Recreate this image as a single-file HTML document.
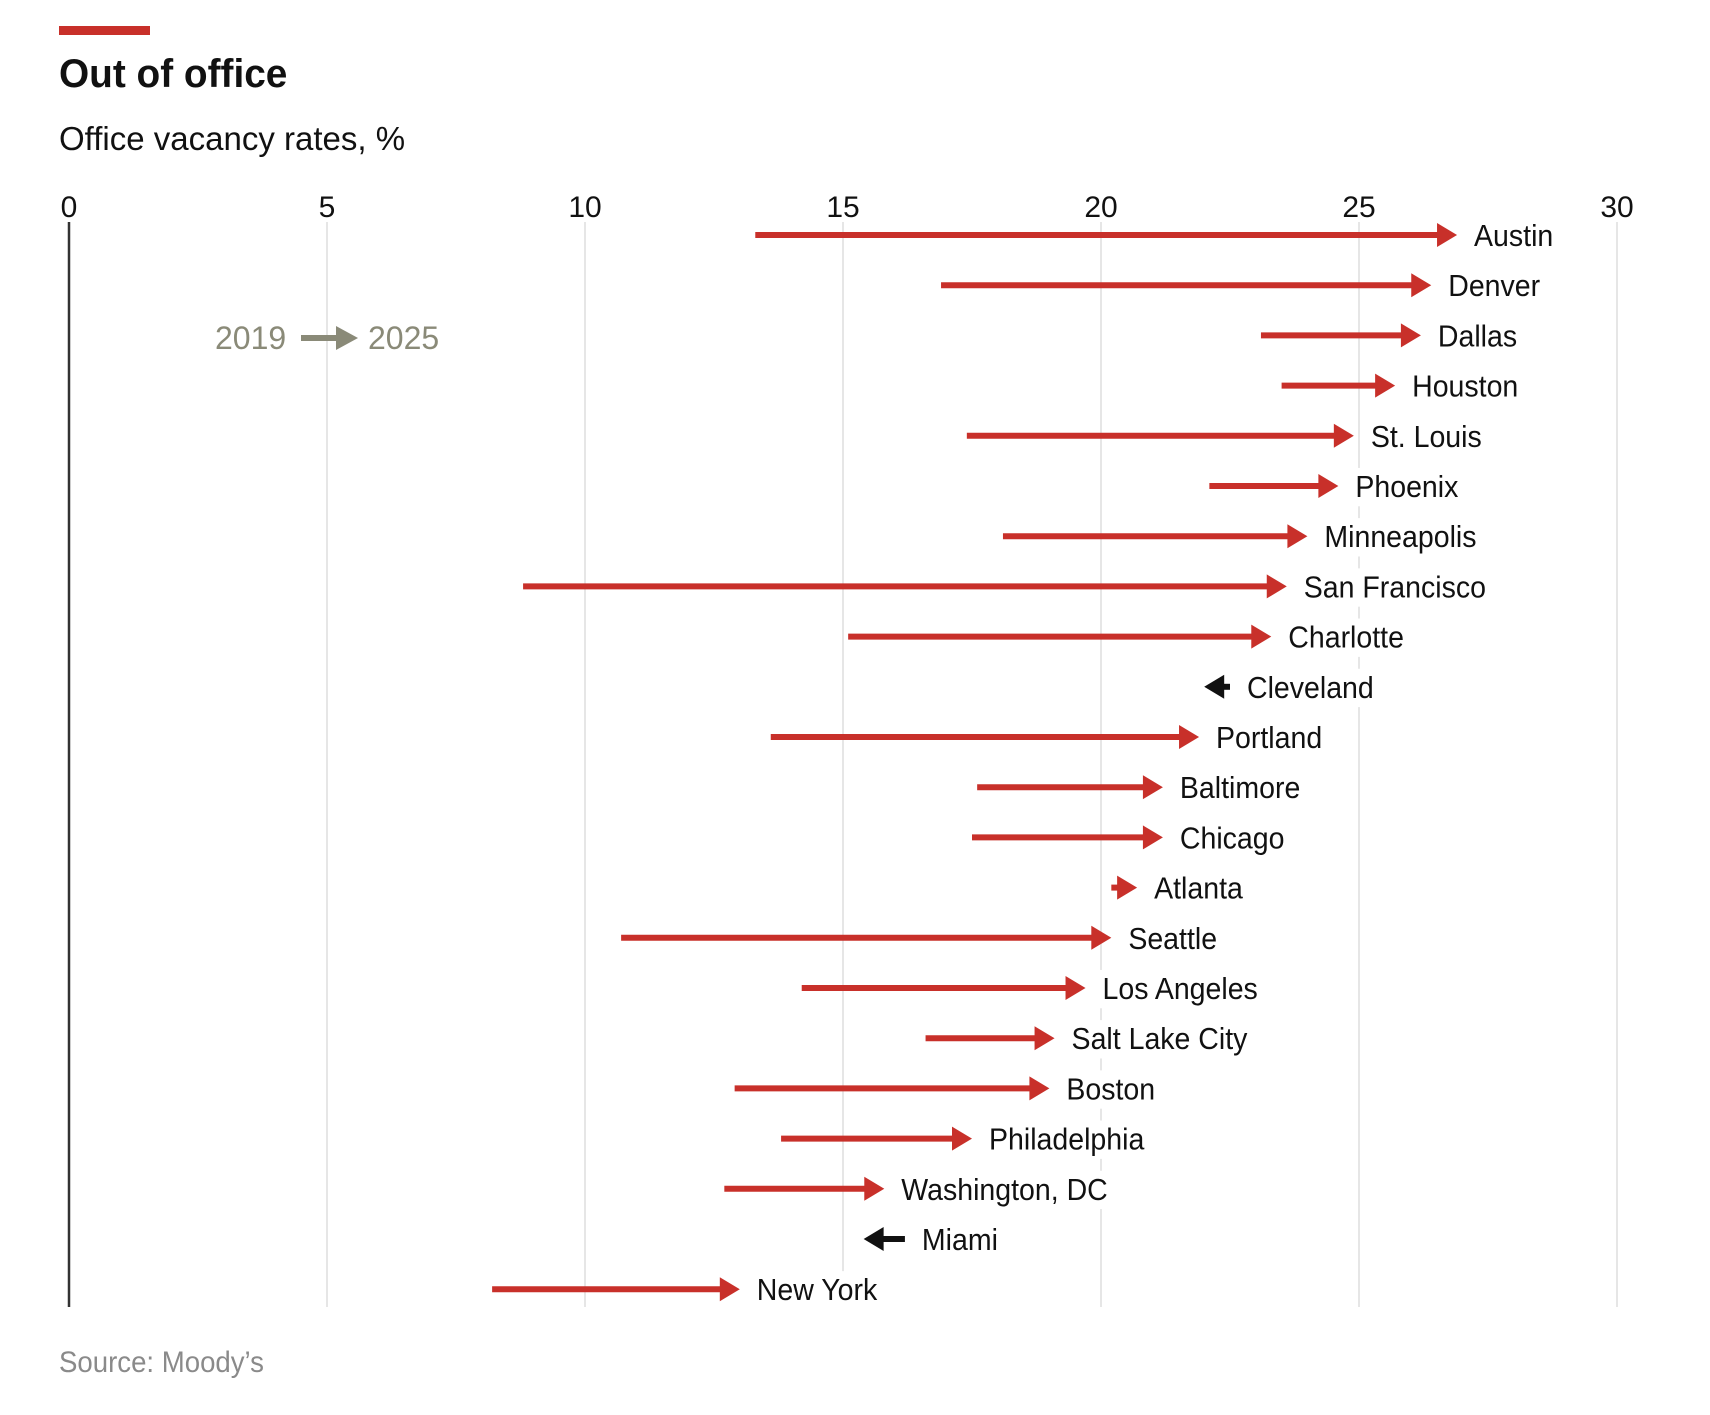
<!DOCTYPE html>
<html><head><meta charset="utf-8"><style>
body{margin:0;background:#fff;width:1710px;height:1410px;overflow:hidden;font-family:"Liberation Sans",sans-serif;}
</style></head><body>
<svg width="1710" height="1410" xmlns="http://www.w3.org/2000/svg" id="chart" font-family="Liberation Sans, sans-serif">
<rect x="59" y="26" width="91" height="9" fill="#c8302a"/>
<text x="59" y="87" font-size="40" font-weight="bold" fill="#111" transform="translate(59,0) scale(0.97,1) translate(-59,0)">Out of office</text>
<text x="59" y="150" font-size="33" fill="#111">Office vacancy rates, %</text>
<g id="grid"></g><g id="marks"></g>
<g>
<text x="215" y="349" font-size="32" fill="#8a8a78">2019</text>
<line x1="301" y1="338" x2="340" y2="338" stroke="#8a8a78" stroke-width="6"/>
<polygon points="336,326 358,338 336,350" fill="#8a8a78"/>
<text x="368" y="349" font-size="32" fill="#8a8a78">2025</text>
</g>
<text x="59" y="1372" font-size="30" fill="#8a8a8a" transform="translate(59,0) scale(0.92,1) translate(-59,0)">Source: Moody’s</text>
</svg>
<script>
const cities=["Austin","Denver","Dallas","Houston","St. Louis","Phoenix","Minneapolis","San Francisco","Charlotte","Cleveland","Portland","Baltimore","Chicago","Atlanta","Seattle","Los Angeles","Salt Lake City","Boston","Philadelphia","Washington, DC","Miami","New York"];
const v2019=[13.3,16.9,23.1,23.5,17.4,22.1,18.1,8.8,15.1,22.5,13.6,17.6,17.5,20.2,10.7,14.2,16.6,12.9,13.8,12.7,16.2,8.2];
const v2025=[26.9,26.4,26.2,25.7,24.9,24.6,24.0,23.6,23.3,22.0,21.9,21.2,21.2,20.7,20.2,19.7,19.1,19.0,17.5,15.8,15.4,13.0];
const ticks=[0,5,10,15,20,25,30];
const x=v=>69+v*51.6;
const y=i=>235+i*50.2;
const NS="http://www.w3.org/2000/svg";
const grid=document.getElementById('grid'),marks=document.getElementById('marks');
function mk(t,a,p){const e=document.createElementNS(NS,t);for(const k in a)e.setAttribute(k,a[k]);p.appendChild(e);return e;}
ticks.forEach(t=>{
 const l=mk('line',{x1:x(t),x2:x(t),y1:222,y2:1307,stroke:t===0?'#333':'#ddd','stroke-width':t===0?2.5:1.5},grid);
 
 
 const tx=mk('text',{x:x(t),y:217,'font-size':30,'text-anchor':'middle',fill:'#111'},grid);
 tx.textContent=t;
 
 
});
cities.forEach((c,i)=>{
 const a=x(v2019[i]),b=x(v2025[i]),yy=y(i),up=b>a,col=up?'#c8302a':'#111';
 const g=mk('g',{},marks);
 
 
 const dir=up?1:-1,hl=20;
 mk('line',{x1:a,y1:yy,x2:b-dir*hl+dir*2,y2:yy,stroke:col,'stroke-width':6},g);
 mk('polygon',{points:`${b-dir*hl},${yy-12} ${b},${yy} ${b-dir*hl},${yy+12}`,fill:col},g);
 const lx=Math.max(a,b)+17;
 const tg=mk('g',{transform:`translate(${lx},${yy+11}) scale(0.92,1)`},g);
 const t=mk('text',{x:0,y:0,'font-size':31,fill:'#111'},tg);
 t.textContent=c;
 const bb=t.getBBox();
 const r=document.createElementNS(NS,'rect');
 r.setAttribute('x',bb.x-4);r.setAttribute('y',bb.y-2);r.setAttribute('width',bb.width+8);r.setAttribute('height',bb.height+4);r.setAttribute('fill','#fff');
 tg.insertBefore(r,t);
 
 
});
</script>
</body></html>
